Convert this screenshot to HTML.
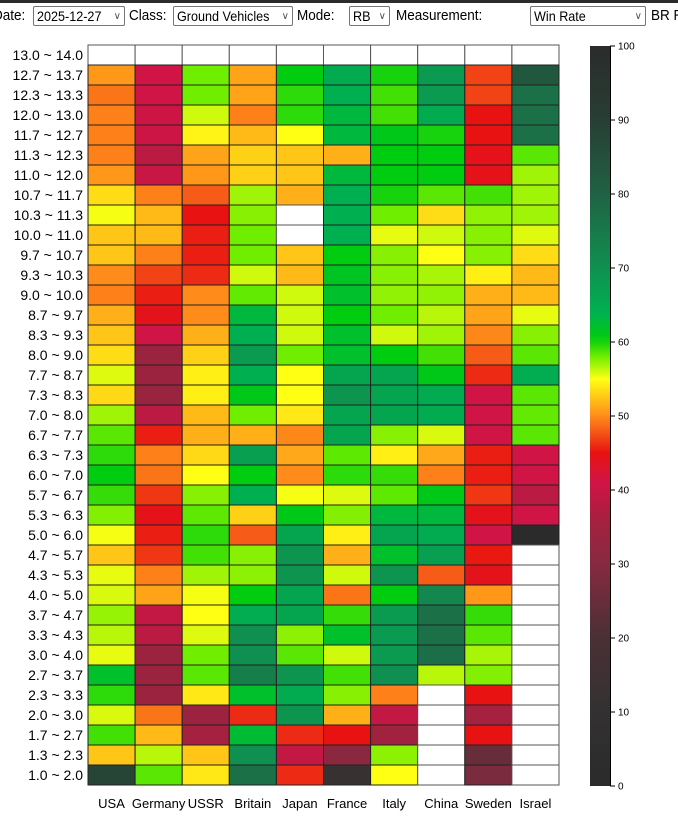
<!DOCTYPE html>
<html><head><meta charset="utf-8">
<style>
body{margin:0;width:678px;height:824px;overflow:hidden;background:#fff;font-family:"Liberation Sans",Arial,sans-serif;position:relative}
#topband{position:absolute;left:0;top:0;width:678px;height:3px;background:#2b2b2b}
.ctl{position:absolute;top:7px;font-size:15px;white-space:nowrap;color:#000;transform:scaleX(0.9);transform-origin:0 0}
.sel{position:absolute;top:6px;height:20px;border:1px solid #767676;border-radius:2px;font-size:14px;line-height:19px;padding-left:3px;box-sizing:border-box;background:#fff;white-space:nowrap;overflow:hidden}
.sel span.t{display:inline-block;transform:scaleX(0.9);transform-origin:0 0}
.sel span.arr{position:absolute;right:3px;top:0;font-size:10px;color:#555}
svg{position:absolute;left:0;top:0}
</style></head><body>
<div id="topband"></div>
<div class="ctl" style="left:-7px">Date:</div>
<div class="sel" style="left:33px;width:92px"><span class="t">2025-12-27</span><span class="arr">&#8744;</span></div>
<div class="ctl" style="left:129px">Class:</div>
<div class="sel" style="left:173px;width:120px"><span class="t">Ground Vehicles</span><span class="arr">&#8744;</span></div>
<div class="ctl" style="left:297px">Mode:</div>
<div class="sel" style="left:349px;width:41px"><span class="t">RB</span><span class="arr">&#8744;</span></div>
<div class="ctl" style="left:396px">Measurement:</div>
<div class="sel" style="left:530px;width:116px"><span class="t">Win Rate</span><span class="arr">&#8744;</span></div>
<div class="ctl" style="left:651px">BR R</div>
<svg id="chart" width="678" height="824"></svg>
<script>
const nations = ["USA","Germany","USSR","Britain","Japan","France","Italy","China","Sweden","Israel"];
const brRanges = ["13.0 ~ 14.0","12.7 ~ 13.7","12.3 ~ 13.3","12.0 ~ 13.0","11.7 ~ 12.7","11.3 ~ 12.3","11.0 ~ 12.0","10.7 ~ 11.7","10.3 ~ 11.3","10.0 ~ 11.0","9.7 ~ 10.7","9.3 ~ 10.3","9.0 ~ 10.0","8.7 ~ 9.7","8.3 ~ 9.3","8.0 ~ 9.0","7.7 ~ 8.7","7.3 ~ 8.3","7.0 ~ 8.0","6.7 ~ 7.7","6.3 ~ 7.3","6.0 ~ 7.0","5.7 ~ 6.7","5.3 ~ 6.3","5.0 ~ 6.0","4.7 ~ 5.7","4.3 ~ 5.3","4.0 ~ 5.0","3.7 ~ 4.7","3.3 ~ 4.3","3.0 ~ 4.0","2.7 ~ 3.7","2.3 ~ 3.3","2.0 ~ 3.0","1.7 ~ 2.7","1.3 ~ 2.3","1.0 ~ 2.0"];
const winRates = [
[null,null,null,null,null,null,null,null,null,null],
[50.5,41,58,51,60.5,65,60,68,47,83],
[49,41,58,51,59.5,64,59,68,47,77],
[49.5,40.5,56,49.5,59.5,63,59,65,45,77],
[49.5,40.5,54.5,52,55,63,61,60,45,77],
[49.5,38.5,51,53,52.5,51.5,60.5,60.5,44.5,58.5],
[50.5,40,50.5,53,52.5,63,60.5,60.5,44.5,57],
[53.5,49.5,48,57,51.5,64,60,58.5,59,57],
[55.2,52,45,57.5,null,64,58,53.5,57.3,57],
[52.5,52,45.5,58,null,64,55.5,56,57.5,55.7],
[52.5,49.5,45.5,58,52.5,60.5,57.5,55,57.5,53.5],
[50,47,46,56,52,61.5,57.5,56.8,54.3,52],
[49.5,45.5,50,58.3,56,62,57.3,57.3,51.5,52],
[51.5,44.3,50,63,56,60.5,58,56.5,51,55.5],
[52.5,41,51.5,64,56,62,56,57,49.8,57.5],
[53.5,34,53,68,58,62,60.5,59,48,58.5],
[55.7,34,54.3,64,55,66,66,61,46,64.5],
[53.3,33.5,54.3,61,55,69,66,65,41,58.5],
[57,38.5,52,58,54,66,66,65,41,58.3],
[58.5,45.5,51.5,51.5,49.8,66,57.5,55.8,41,58.5],
[59.5,49.5,53.3,67,51.2,58.4,54.3,51.2,45.5,41],
[60.5,49,55,60.5,50,59.5,59.3,49.5,45.5,41],
[59.3,46.5,57.5,64,55.2,55.7,58.4,61,46.5,38.5],
[57.6,44.5,58.4,53,61,57.6,63,63,44.3,41],
[55.2,45.5,59.5,48,66,54.3,66,65,41,0],
[52.5,46.5,59,57.5,69,51.5,62,67,45.3,null],
[55.5,49.5,57,57.4,69,56,69,48,44.3,null],
[55.8,51,55.2,60.5,66,49,60.5,72,50.5,null],
[57.2,39.5,55,64.5,66,59.3,68,77,59.3,null],
[56.5,38.5,55.7,70,57.4,62,68,77,58.5,null],
[55.5,34,58,70,58.5,56,68,77.5,56.8,null],
[62,34,58.5,74,69,59,70,56.5,57.6,null],
[59.5,34,54,62,65,57.5,49.5,null,45,null],
[55.8,49,34,46,69,51.5,39.5,null,36,null],
[59,52,36,62.5,46,45,35,null,45,null],
[52.5,56.5,52.5,70,39.5,31,57.4,null,25,null],
[88,58.5,54,77,46,12,55,null,28,null]
];
const cbTicks = [0,10,20,30,40,50,60,70,80,90,100];

const stops=[[0,"#2b2b2b"],[10,"#333131"],[20,"#4a3035"],[30,"#862a40"],[36,"#a6203f"],[41,"#d01446"],[45,"#e81212"],[50,"#ff8c1a"],[55,"#ffff14"],[58,"#70ee00"],[60.5,"#00cc10"],[64,"#00b050"],[70,"#109050"],[80,"#1f6244"],[90,"#283e34"],[100,"#2b2b2b"]];
function hx(c){return [1,3,5].map(i=>parseInt(c.substr(i,2),16));}
function color(v){
  for(let i=0;i<stops.length-1;i++){
    const [a,ca]=stops[i],[b,cb]=stops[i+1];
    if(v>=a&&v<=b){const t=(v-a)/(b-a);const A=hx(ca),B=hx(cb);
      return "rgb("+A.map((x,k)=>Math.round(x+(B[k]-x)*t)).join(",")+")";}
  }
  return "#2b2b2b";
}
const NS="http://www.w3.org/2000/svg";
const svg=document.getElementById('chart');
const gx0=88,gy0=45,gw=471,gh=740;
const cw=gw/nations.length, rh=gh/brRanges.length;
const xPos=i=>gx0+i*cw, yPos=j=>gy0+j*rh;
function mk(t,attrs){const e=document.createElementNS(NS,t);for(const k in attrs)e.setAttribute(k,attrs[k]);svg.appendChild(e);return e;}
brRanges.forEach((lab,j)=>{
  const t=mk('text',{x:83,y:yPos(j)+rh/2+5,'text-anchor':'end','font-size':'14','font-family':'Liberation Sans, sans-serif'});
  t.textContent=lab;
  
  
});
nations.forEach((n,i)=>{
  const t=mk('text',{x:xPos(i)+cw/2,y:808,'text-anchor':'middle','font-size':'13','font-family':'Liberation Sans, sans-serif'});
  t.textContent=n;
  
  
});
winRates.forEach((row,j)=>row.forEach((v,i)=>{
  const r=mk('rect',{x:xPos(i),y:yPos(j),width:cw,height:rh,fill:v===null?'#fff':color(v),stroke:v===null?'#555':'#222','stroke-width':'1'});
  
  
}));
const cbx=590,cby0=46,cbh=740,cbw=20;
const defs=mk('defs',{});
const lg=document.createElementNS(NS,'linearGradient');
lg.setAttribute('id','cbg');lg.setAttribute('x1','0');lg.setAttribute('y1','1');lg.setAttribute('x2','0');lg.setAttribute('y2','0');
defs.appendChild(lg);
for(let v=0;v<=100;v+=1){const s=document.createElementNS(NS,'stop');s.setAttribute('offset',v+'%');s.setAttribute('stop-color',color(v));lg.appendChild(s);}
const cb=mk('rect',{x:cbx,y:cby0,width:cbw,height:cbh,fill:'url(#cbg)'});


mk('line',{x1:cbx+cbw+0.5,y1:cby0,x2:cbx+cbw+0.5,y2:cby0+cbh,stroke:'#000'});
const cbY=v=>cby0+cbh-(v/100)*cbh;
cbTicks.forEach(v=>{
  mk('line',{x1:cbx+cbw,y1:cbY(v),x2:cbx+cbw+5,y2:cbY(v),stroke:'#000'});
  const t=mk('text',{x:cbx+cbw+8,y:cbY(v)+3.5,'font-size':'10','font-family':'Liberation Sans, sans-serif'});
  t.textContent=v;
  
  
});
</script>
</body></html>
